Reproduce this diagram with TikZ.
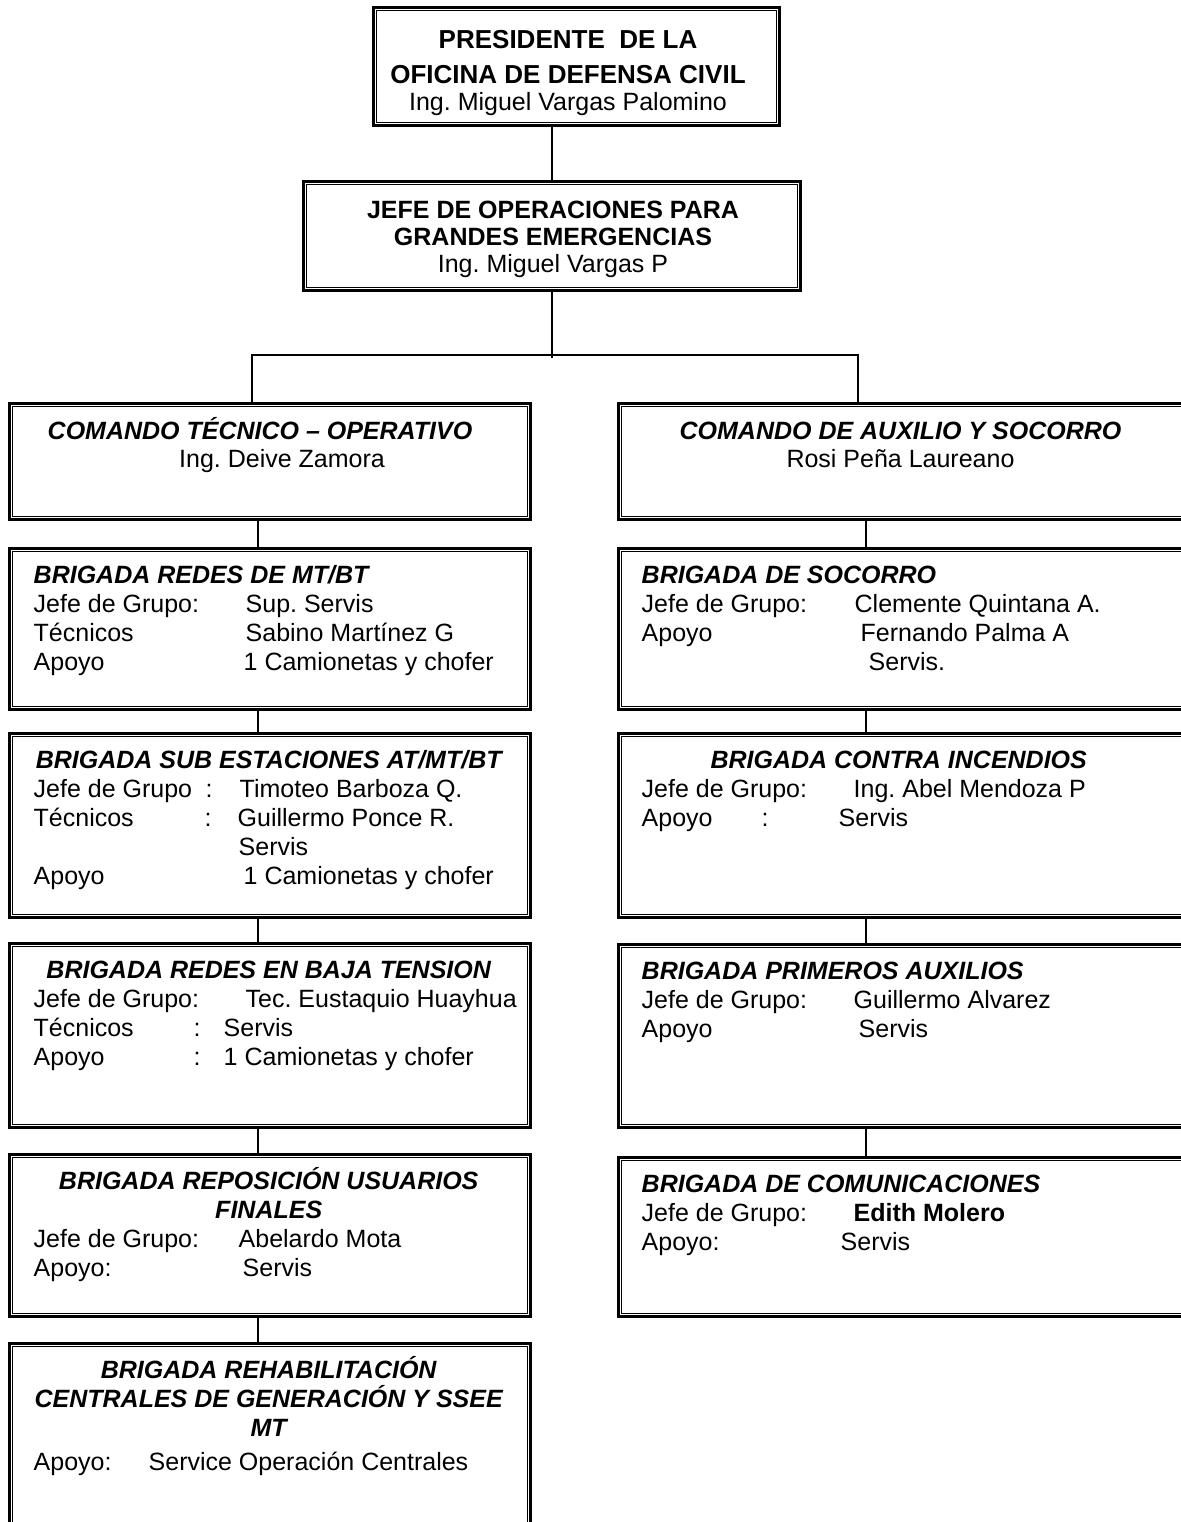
\documentclass[tikz,border=0pt]{standalone}
\usepackage{fontspec}
\setmainfont{Liberation Sans}
\usepackage{tikz}
\usetikzlibrary{positioning}
\frenchspacing
\newcommand{\campo}[3]{\makebox[#1pt][l]{#2}#3}
\newcommand{\cab}[1]{{\bfseries\itshape #1}}
\newcommand{\cabc}[2]{\makebox[#1pt][c]{\bfseries\itshape #2}}
\newcommand{\tope}{\rule{0pt}{24pt}}

\begin{document}
\begin{tikzpicture}[x=1pt,y=1pt,
		caja/.style={draw,line width=3pt,inner sep=0pt},
		texto/.style={inner sep=0pt,align=left,anchor=north west,font=\fontsize{25}{29}\selectfont},
		centro/.style={inner sep=0pt,align=center,anchor=north,font=\fontsize{25}{28}\selectfont},
		linea/.style={line width=1.2pt}]
		\useasboundingbox (0,0) rectangle (1180,-1522);

		% cajas
		\node[caja,minimum width=406pt,minimum height=118pt] (pres) at (576.5,-66.5) {};
		\node[caja,minimum width=497pt,minimum height=109pt] (jefe) at (552,-236) {};
		\node[caja,minimum width=521pt,minimum height=116pt] (cto) at (270,-461.5) {};
		\node[caja,minimum width=580pt,minimum height=116pt] (cas) at (908.5,-461.5) {};
		\node[caja,minimum width=521pt,minimum height=161pt] (mt) at (270,-629) {};
		\node[caja,minimum width=521pt,minimum height=184pt] (sub) at (270,-825.5) {};
		\node[caja,minimum width=521pt,minimum height=184pt] (baja) at (270,-1035.5) {};
		\node[caja,minimum width=521pt,minimum height=162pt] (repo) at (270,-1235.5) {};
		\node[caja,minimum width=521pt,minimum height=185pt] (reha) at (270,-1436) {};
		\node[caja,minimum width=580pt,minimum height=161pt] (soc) at (908.5,-629) {};
		\node[caja,minimum width=580pt,minimum height=184pt] (inc) at (908.5,-825.5) {};
		\node[caja,minimum width=580pt,minimum height=183pt] (aux) at (908.5,-1036) {};
		\node[caja,minimum width=580pt,minimum height=159pt] (com) at (908.5,-1237) {};

		\foreach \b in {pres,jefe,cto,cas,mt,sub,baja,repo,reha,soc,inc,aux,com}
			\draw[line width=1.3pt] ([shift={(4.3pt,-4.3pt)}]\b.north west) rectangle ([shift={(-4.3pt,4.3pt)}]\b.south east);

		% textos
		\node[centro,font=\fontsize{25}{27}\selectfont] (pres-t) at ([shift={(-8.5pt,-18.5pt)}]pres.north)
			{\tope\textbf{\fontsize{26}{27}\selectfont PRESIDENTE\ \ DE LA}\\[8pt]\textbf{\fontsize{26}{27}\selectfont OFICINA DE DEFENSA CIVIL}\\Ing. Miguel Vargas Palomino};
		\node[centro,font=\fontsize{25}{27}\selectfont] (jefe-t) at ([shift={(1pt,-14.5pt)}]jefe.north)
			{\tope\textbf{JEFE DE OPERACIONES PARA}\\\textbf{GRANDES EMERGENCIAS}\\Ing. Miguel Vargas P};
		\node[centro] (cto-t) at ([shift={(0pt,-13.5pt)}]cto.north)
			{\tope\cab{COMANDO TÉCNICO – OPERATIVO}\hspace*{20pt}\\\hspace*{24pt}Ing. Deive Zamora};
		\node[centro] (cas-t) at ([shift={(-8pt,-13.5pt)}]cas.north)
			{\tope\cab{COMANDO DE AUXILIO Y SOCORRO}\\Rosi Peña Laureano};

		\node[texto] (mt-t) at ([shift={(25.5pt,-12.5pt)}]mt.north west)
			{\tope\cab{BRIGADA REDES DE MT/BT}\\
			\campo{212}{Jefe de Grupo:}{Sup. Servis}\\
			\campo{212}{Técnicos}{Sabino Martínez G}\\
			\campo{210}{Apoyo}{1 Camionetas y chofer}};
		\node[texto] (sub-t) at ([shift={(25.5pt,-12.5pt)}]sub.north west)
			{\tope\cabc{470}{BRIGADA SUB ESTACIONES AT/MT/BT}\\
			\campo{172}{Jefe de Grupo}{\campo{34}{:}{Timoteo Barboza Q.}}\\
			\campo{171}{Técnicos}{\campo{33}{:}{Guillermo Ponce R.}}\\
			\campo{205}{}{Servis}\\
			\campo{210}{Apoyo}{1 Camionetas y chofer}};
		\node[texto] (baja-t) at ([shift={(25.5pt,-12.5pt)}]baja.north west)
			{\tope\cabc{470}{BRIGADA REDES EN BAJA TENSION}\\
			\campo{212}{Jefe de Grupo:}{Tec. Eustaquio Huayhua}\\
			\campo{160}{Técnicos}{\campo{30}{:}{Servis}}\\
			\campo{160}{Apoyo}{\campo{30}{:}{1 Camionetas y chofer}}};
		\node[texto] (repo-t) at ([shift={(25.5pt,-12.5pt)}]repo.north west)
			{\tope\cabc{470}{BRIGADA REPOSICIÓN USUARIOS}\\
			\cabc{470}{FINALES}\\
			\campo{205}{Jefe de Grupo:}{Abelardo Mota}\\
			\campo{209}{Apoyo:}{Servis}};
		\node[texto] (reha-t) at ([shift={(25.5pt,-12.5pt)}]reha.north west)
			{\tope\cabc{470}{BRIGADA REHABILITACIÓN}\\
			\cabc{470}{CENTRALES DE GENERACIÓN Y SSEE}\\
			\cabc{470}{MT}\\[5pt]
			\campo{115}{Apoyo:}{Service Operación Centrales}};

		\node[texto] (soc-t) at ([shift={(24.5pt,-12.5pt)}]soc.north west)
			{\tope\cab{BRIGADA DE SOCORRO}\\
			\campo{213}{Jefe de Grupo:}{Clemente Quintana A.}\\
			\campo{219}{Apoyo}{Fernando Palma A}\\
			\campo{227}{}{Servis.}};
		\node[texto] (inc-t) at ([shift={(24.5pt,-12.5pt)}]inc.north west)
			{\tope\cabc{514}{BRIGADA CONTRA INCENDIOS}\\
			\campo{212}{Jefe de Grupo:}{Ing. Abel Mendoza P}\\
			\campo{120}{Apoyo}{\campo{77}{:}{Servis}}};
		\node[texto] (aux-t) at ([shift={(24.5pt,-12.5pt)}]aux.north west)
			{\tope\cab{BRIGADA PRIMEROS AUXILIOS}\\
			\campo{212}{Jefe de Grupo:}{Guillermo Alvarez}\\
			\campo{217}{Apoyo}{Servis}};
		\node[texto] (com-t) at ([shift={(24.5pt,-12.5pt)}]com.north west)
			{\tope\cab{BRIGADA DE COMUNICACIONES}\\
			\campo{212}{Jefe de Grupo:}{\textbf{Edith Molero}}\\
			\campo{199}{Apoyo:}{Servis}};

		% lineas
		\coordinate (hub) at (jefe.south |- 0,-355);
		\coordinate (hubL) at (252,-355);
		\coordinate (hubR) at (858,-355);
		\draw[linea] (jefe.north) -- (jefe.north |- pres.south);
		\draw[linea] (jefe.south) -- ([yshift=-3pt]hub);
		\draw[linea] (hubL |- cto.north) -- (hubL) -- (hubR) -- (hubR |- cas.north);
		\foreach \a/\b in {cto/mt,mt/sub,sub/baja,baja/repo,repo/reha}
			\draw[linea] ([xshift=-12pt]\a.south) -- ([xshift=-12pt]\b.north);
		\foreach \a/\b in {cas/soc,soc/inc,inc/aux,aux/com}
			\draw[linea] ([xshift=-42.5pt]\a.south) -- ([xshift=-42.5pt]\b.north);
\end{tikzpicture}
\end{document}
